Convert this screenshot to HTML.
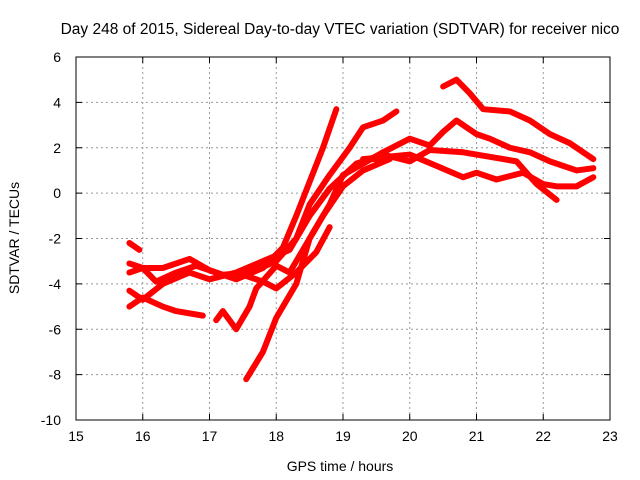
<!DOCTYPE html>
<html><head><meta charset="utf-8"><style>
body{margin:0;background:#fff;}
svg{display:block;font-family:"Liberation Sans",sans-serif;}
</style></head><body>
<svg id="chart" width="640" height="480">
<text x="340" y="34" font-size="15.5" text-anchor="middle" fill="#000">Day 248 of 2015, Sidereal Day-to-day VTEC variation (SDTVAR) for receiver nico</text>
<g id="grid"></g><g id="series"></g><g id="axes"></g>
<text x="340" y="471" font-size="14" text-anchor="middle">GPS time / hours</text>
<text transform="translate(19,238) rotate(-90)" font-size="14" text-anchor="middle">SDTVAR / TECUs</text>
</svg>
<script>
const xTicks=[15,16,17,18,19,20,21,22,23];
const yTicks=[-10,-8,-6,-4,-2,0,2,4,6];
const s1=[[15.8,-2.2],[15.95,-2.5]];
const s2=[[15.8,-3.1],[16.0,-3.3],[16.3,-3.3],[16.7,-2.9],[17.0,-3.4],[17.4,-3.8],[17.8,-3.3],[18.1,-2.4],[18.3,-1.0],[18.5,0.5],[18.7,2.0],[18.9,3.7]];
const s3=[[15.8,-3.5],[16.0,-3.3],[16.2,-3.9],[16.5,-3.5],[16.8,-3.2],[17.2,-3.6],[17.6,-3.5],[18.0,-3.0],[18.3,-2.0],[18.5,-0.5],[18.8,0.8],[19.1,2.0],[19.3,2.9],[19.6,3.2],[19.8,3.6]];
const s4=[[15.8,-4.3],[16.0,-4.7],[16.3,-4.0],[16.7,-3.5],[17.0,-3.8],[17.4,-3.5],[17.8,-3.0],[18.2,-2.5],[18.5,-1.0],[18.8,0.2],[19.2,1.3],[19.6,1.7],[20.0,1.4],[20.3,1.9],[20.8,1.8],[21.2,1.6],[21.6,1.4],[21.9,0.4],[22.2,-0.3]];
const s5=[[15.8,-5.0],[16.0,-4.6],[16.3,-5.0],[16.5,-5.2],[16.9,-5.4]];
const s6=[[17.1,-5.6],[17.2,-5.2],[17.4,-6.0],[17.6,-5.0],[17.7,-4.2],[18.0,-3.2],[18.2,-3.5],[18.4,-2.5],[18.7,-1.0],[19.0,0.3],[19.3,1.0],[19.7,1.5],[19.3,1.5],[20.0,1.7],[20.4,1.2],[20.8,0.7],[21.0,0.9],[21.3,0.6],[21.7,0.9],[22.0,0.4],[22.2,0.3],[22.5,0.3],[22.75,0.7]];
const s7=[[17.55,-8.2],[17.8,-7.0],[18.0,-5.5],[18.3,-4.0],[18.5,-2.0],[18.8,-0.5],[19.0,0.8],[19.3,1.3],[19.6,1.8],[20.0,2.4],[20.3,2.1],[20.5,2.7],[20.7,3.2],[21.0,2.6],[21.2,2.4],[21.5,2.0],[21.8,1.8],[22.1,1.4],[22.5,1.0],[22.75,1.1]];
const s8=[[20.5,4.7],[20.7,5.0],[20.9,4.4],[21.1,3.7],[21.5,3.6],[21.8,3.2],[22.1,2.6],[22.4,2.2],[22.75,1.5]];
const s9=[[17.5,-3.6],[17.8,-3.9],[18.0,-4.2],[18.3,-3.5],[18.6,-2.6],[18.8,-1.5]];
const seriesList=[s1,s2,s3,s4,s5,s6,s7,s8,s9];
const L=76,R=610,T=57,B=420;
const X=v=>L+(v-15)/8*(R-L);
const Y=v=>B-(v+10)/16*(B-T);
const NS="http://www.w3.org/2000/svg";
const g=document.getElementById('grid'),ax=document.getElementById('axes'),sg=document.getElementById('series');
function mk(tag,at,par){const e=document.createElementNS(NS,tag);for(const k in at)e.setAttribute(k,at[k]);par.appendChild(e);return e;}
xTicks.forEach(t=>{
 if(t>15&&t<23){const l=mk('line',{x1:X(t),x2:X(t),y1:T,y2:B,stroke:'#999','stroke-dasharray':'2,3'},g);
 
 }
 const tx=mk('text',{x:X(t),y:B+21,'font-size':14,'text-anchor':'middle'},ax);tx.textContent=t;
 
 
 mk('line',{x1:X(t),x2:X(t),y1:B,y2:B-6,stroke:'#000'},ax);mk('line',{x1:X(t),x2:X(t),y1:T,y2:T+6,stroke:'#000'},ax);
});
yTicks.forEach(t=>{
 if(t>-10&&t<6){const l=mk('line',{x1:L,x2:R,y1:Y(t),y2:Y(t),stroke:'#999','stroke-dasharray':'2,3'},g);
 
 }
 const tx=mk('text',{x:L-15,y:Y(t)+5,'font-size':14,'text-anchor':'end'},ax);tx.textContent=t;
 
 
 mk('line',{x1:L,x2:L+6,y1:Y(t),y2:Y(t),stroke:'#000'},ax);mk('line',{x1:R,x2:R-6,y1:Y(t),y2:Y(t),stroke:'#000'},ax);
});
const fr=mk('rect',{x:L,y:T,width:R-L,height:B-T,fill:'none',stroke:'#000'},ax);


seriesList.forEach((s,i)=>{
 const p=mk('polyline',{points:s.map(d=>X(d[0])+','+Y(d[1])).join(' '),fill:'none',stroke:'#ff0000','stroke-width':6,'stroke-linejoin':'round','stroke-linecap':'round'},sg);
 
 
});
</script>
</body></html>
